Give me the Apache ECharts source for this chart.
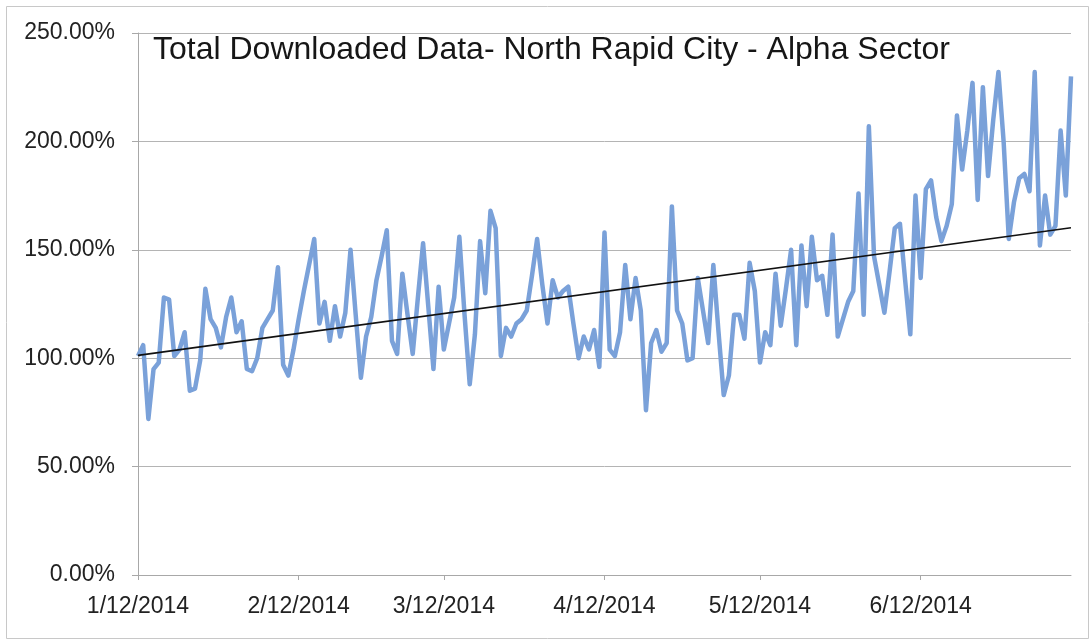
<!DOCTYPE html>
<html>
<head>
<meta charset="utf-8">
<script src="https://cdn.jsdelivr.net/npm/echarts@6/dist/echarts.min.js"></script>
<style>
html,body{margin:0;padding:0;background:#fff;}
#chart{width:1091px;height:642px;}
</style>
</head>
<body>
<div id="chart"></div>
<script>
const titleText = "Total Downloaded Data- North Rapid City - Alpha Sector";
const startDate = [2014, 1, 12];
const values = [
101,106,72,95,98,128,127,101,104,112,85,86,99,132,118,114,105,119,128,112,
117,95,94,100,114,118,122,142,97,92,104,118,131,143,155,116,126,108,124,110,
121,150,120,91,110,119,136,147,159,108,102,139,120,102,128,153,124,95,133,104,
116,128,156,120,88,111,154,130,168,160,101,114,110,116,118,122,138,155,134,116,
136,128,131,133,116,100,110,104,113,96,158,104,101,112,143,118,137,122,76,107,
113,103,107,170,122,116,99,100,137,122,107,143,112,83,92,120,120,109,144,131,
98,112,106,139,115,132,150,106,152,124,156,136,138,120,157,110,118,126,131,176,
120,207,147,134,121,140,160,162,136,111,175,137,178,182,165,154,161,171,212,187,
205,227,173,225,184,210,232,200,155,172,183,185,177,232,152,175,157,161,205,175,
230
];
const trendEnds = [101.3, 160.2];
const yTicks = [0, 50, 100, 150, 200, 250];

const categories = [];
{
  const d = new Date(startDate[0], startDate[1]-1, startDate[2]);
  for (let i = 0; i < values.length; i++) {
    categories.push((d.getMonth()+1) + "/" + d.getDate() + "/" + d.getFullYear());
    d.setDate(d.getDate()+1);
  }
}
const isLabelDay = (idx, val) => val.split("/")[1] === "12";

const FONT = '"Liberation Sans", Arial, sans-serif';
const chart = echarts.init(document.getElementById('chart'));
chart.setOption({
  animation: false,
  backgroundColor: '#fff',
  graphic: [{
    type: 'rect', left: 4, top: 4,
    shape: {width: 1082, height: 632},
    style: {fill: 'none', stroke: '#c8c8c8', lineWidth: 1}
  }],
  title: {
    text: titleText, left: 148, top: 29,
    textStyle: {fontFamily: FONT, fontSize: 32, fontWeight: 'normal', color: '#161616'}
  },
  grid: {left: 138, right: 20, top: 33, bottom: 67},
  xAxis: {
    type: 'category', data: categories, boundaryGap: false,
    axisLine: {lineStyle: {color: '#a8a8a8', width: 1}},
    axisTick: {show: true, interval: isLabelDay, length: 5, lineStyle: {color: '#a8a8a8'}},
    axisLabel: {interval: isLabelDay, margin: 20, fontFamily: FONT, fontSize: 23, color: '#222'},
    splitLine: {show: false}
  },
  yAxis: {
    type: 'value', min: yTicks[0], max: yTicks[yTicks.length-1], interval: 50,
    axisLine: {show: true, lineStyle: {color: '#a8a8a8', width: 1}},
    axisTick: {show: true, length: 6, lineStyle: {color: '#a8a8a8'}},
    axisLabel: {formatter: v => v.toFixed(2) + '%', margin: 23, fontFamily: FONT, fontSize: 23, color: '#222'},
    splitLine: {lineStyle: {color: '#b4b4b4', width: 1}}
  },
  series: [{
    type: 'line', data: values, symbol: 'none',
    lineStyle: {color: '#7aa1d9', width: 4.5, join: 'round'},
    z: 2
  }, {
    type: 'line',
    data: [[categories[0], trendEnds[0]], [categories[categories.length-1], trendEnds[1]]],
    symbol: 'none',
    lineStyle: {color: '#111', width: 1.6},
    z: 3
  }]
});
</script>
</body>
</html>
